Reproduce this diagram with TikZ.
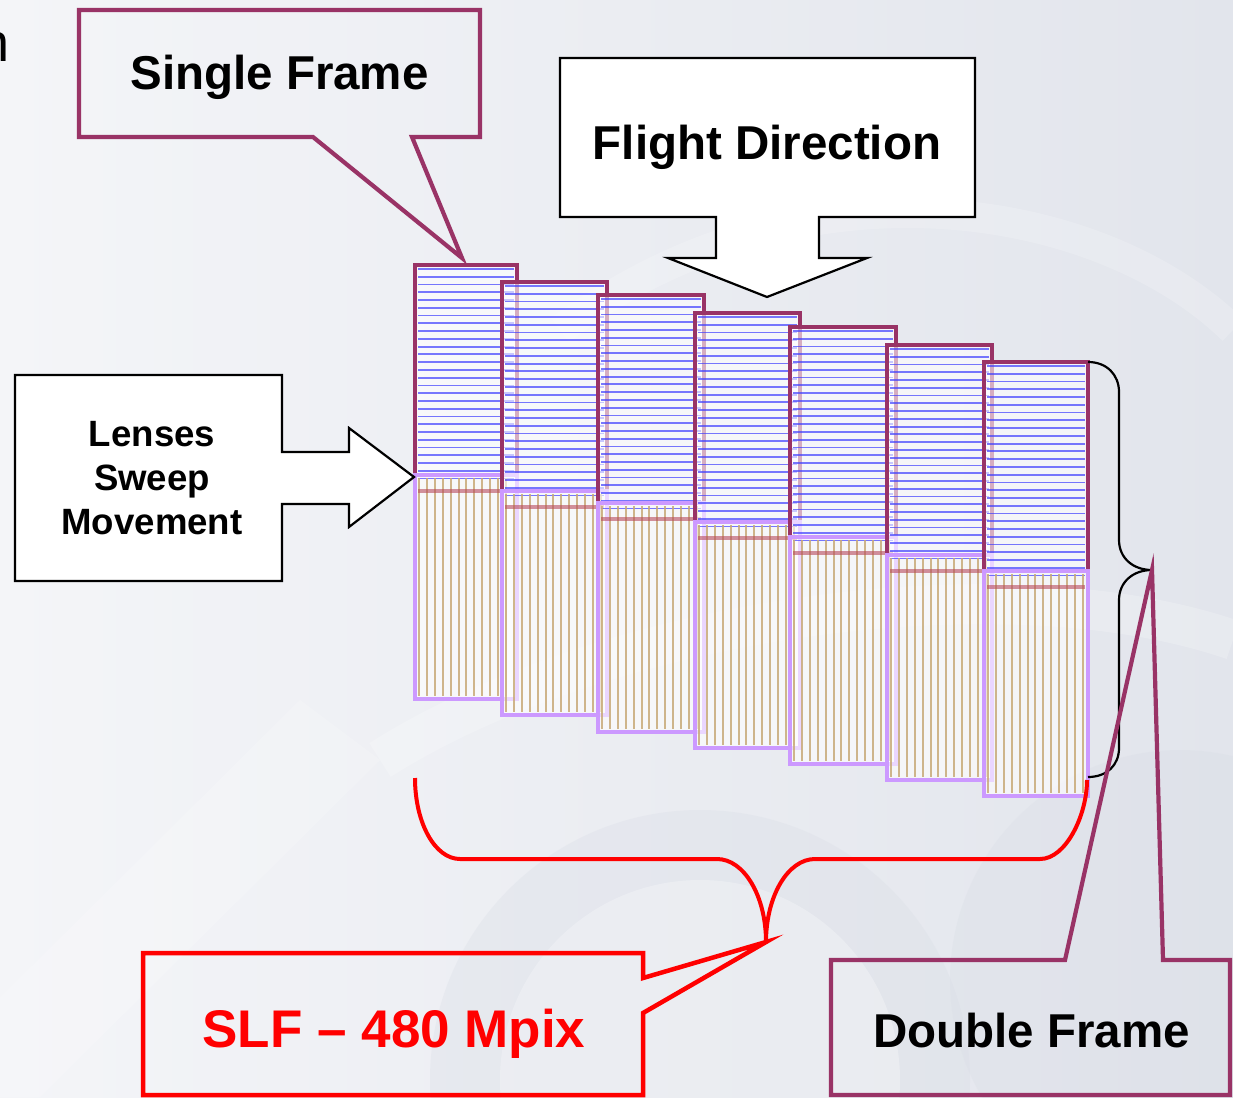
\documentclass[tikz,border=0pt]{standalone}
\usepackage{fontspec}
\setmainfont{Liberation Sans}
\definecolor{maroonc}{HTML}{993366}
\definecolor{lilacc}{HTML}{CC99FF}
\definecolor{bluel}{HTML}{4040FF}
\definecolor{tanl}{HTML}{C8AA78}
\definecolor{redb}{HTML}{B84A5C}
\definecolor{bgA}{HTML}{F4F5F8}
\definecolor{bgB}{HTML}{E2E5EC}
\definecolor{wmark}{HTML}{D8DCE5}
\begin{document}
\begin{tikzpicture}[x=1pt,y=-1pt,
  lbl/.style={font=\fontsize{47.5}{57}\selectfont\bfseries, inner sep=0pt, anchor=base},
  calloutm/.style={draw=maroonc, line width=4.2pt, line join=miter},
  calloutk/.style={draw=black, line width=2.2pt, fill=white, line join=miter},
  toprect/.style={draw=maroonc, line width=4.8pt},
  botrect/.style={draw=lilacc, line width=4.8pt},
  hline/.style={bluel, line width=1.8pt, opacity=0.7},
  vline/.style={tanl, line width=2pt, opacity=0.85},
  band/.style={redb, line width=3.8pt, opacity=0.6},
  brace/.style={draw=black, line width=2.2pt},
  redbrace/.style={draw=red, line width=4pt}
]
% background
\useasboundingbox (0,0) rectangle (1233,1097);
\shade[left color=bgA, right color=bgB] (0,0) rectangle (1233,1097);
\begin{scope}
\clip (0,0) rectangle (1233,1097);
\fill[wmark, opacity=0.3] (700,1080) circle (270);
\fill[bgA, opacity=0.45] (700,1080) circle (200);
\fill[wmark, opacity=0.3] (1180,980) circle (230);
\fill[white, opacity=0.18] (-100,1097) -- (300,700) -- (380,760) -- (40,1097) -- cycle;
\draw[white, opacity=0.2, line width=40pt] (380,760) .. controls (600,620) and (1000,560) .. (1233,640);
\draw[white, opacity=0.18, line width=30pt] (560,330) .. controls (800,150) and (1100,200) .. (1233,330);
% cut-off letter at the left edge
\node[font=\fontsize{54}{60}\selectfont, inner sep=0pt, anchor=base east] (nfrag) at (9.6,62) {n};
\end{scope}

% frames
\foreach \L/\R/\T/\M/\B [count=\i] in {
  415/517/265/475/699,
  502/607/282/491/715,
  598/704/295/503/732,
  695/800/313/522/748,
  790/896/327/537/764,
  887/992/345/555/780,
  984/1088/362/571/796}{
  \fill[white, opacity=0.6] (\L,\T) rectangle (\R,\B);
  \pgfmathtruncatemacro\nb{(\M+10-\T-4)/7.76}
  \foreach \k in {0,...,\nb}{
    \draw[hline] (\L+3,\T+4+\k*7.76) -- (\R-3,\T+4+\k*7.76);
  }
  \pgfmathtruncatemacro\nt{(\R-\L-8)/7.9}
  \foreach \k in {0,...,\nt}{
    \draw[vline] (\L+4+\k*7.9,\M+3) -- (\L+4+\k*7.9,\B-3);
  }
  \draw[band] (\L+3,\M+16) -- (\R-3,\M+16);
  \draw[toprect] (\L,\T) rectangle (\R,\M);
  \draw[botrect] (\L,\M) rectangle (\R,\B);
  \coordinate (c\i) at (\L,\T);
}

% black brace (double frame)
\coordinate (btop) at (1088,362);
\coordinate (btip) at (1152,570);
\coordinate (bbot) at (1088,777);
\draw[brace] (btop) .. controls (1107,362) and (1119,375) .. (1119,392) -- (1119,540)
  .. controls (1119,558) and (1133,570) .. (btip)
  .. controls (1133,570) and (1119,582) .. (1119,600) -- (1119,748)
  .. controls (1119,765) and (1107,777) .. (bbot);

% red brace (SLF)
\coordinate (rl) at (415,778);
\coordinate (rtip) at (766,942);
\coordinate (rr) at (1087,780);
\draw[redbrace] (rl) .. controls (415,823) and (435,859) .. (460,859) -- (717,859)
  .. controls (744,859) and (766,896) .. (rtip)
  .. controls (766,896) and (788,859) .. (815,859) -- (1040,859)
  .. controls (1066,859) and (1087,815) .. (rr);

% Single Frame callout
\draw[calloutm] (79,10) -- (480,10) -- (480,137) -- (412,137) -- (462,258) -- (313,137) -- (79,137) -- cycle;
\node[lbl] (single) at (279.5,90) {Single Frame};

% Flight Direction arrow callout
\draw[calloutk] (560,58) -- (975,58) -- (975,217) -- (819,217) -- (819,258) -- (867,258)
  -- (767,297) -- (668,258) -- (716,258) -- (716,217) -- (560,217) -- cycle;
\node[lbl] (flight) at (767,159) {Flight Direction};

% Lenses Sweep Movement arrow callout
\draw[calloutk] (15,375) -- (282,375) -- (282,452) -- (349,452) -- (349,428) -- (414,477)
  -- (349,527) -- (349,504) -- (282,504) -- (282,581) -- (15,581) -- cycle;
\node[font=\fontsize{36.6}{44}\selectfont\bfseries, align=center, inner sep=0pt] (lenses) at (152,478) {Lenses\\Sweep\\Movement};

% SLF callout
\draw[draw=red, line width=4.5pt, line join=miter] (143,953) -- (643,953) -- (643,978) -- (rtip)
  -- (643,1013) -- (643,1095) -- (143,1095) -- cycle;
\node[lbl, font=\fontsize{53}{60}\selectfont\bfseries, text=red] (slf) at (394,1047) {SLF – 480 Mpix};

% Double Frame callout
\draw[calloutm] (831,960) -- (1065,960) -- (btip) -- (1163,960) -- (1230,960) -- (1230,1095) -- (831,1095) -- cycle;
\node[lbl] (double) at (1031.5,1047) {Double Frame};
\end{tikzpicture}
\end{document}
